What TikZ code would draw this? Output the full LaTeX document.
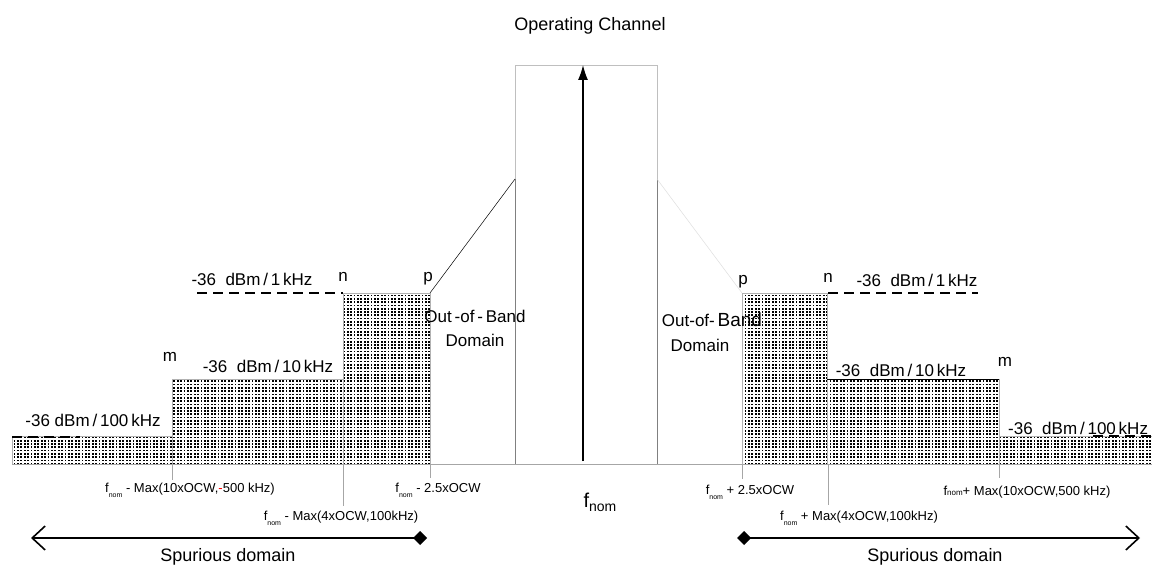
\documentclass[tikz,border=0pt]{standalone}
\usepackage{fontspec}
\setmainfont{Liberation Sans}
\usetikzlibrary{patterns,arrows.meta}
\pgfdeclarepatternformonly{mydots}{\pgfqpoint{-1pt}{-1pt}}{\pgfqpoint{4.5pt}{4.5pt}}{\pgfqpoint{3.4pt}{3.3pt}}{\pgfpathrectangle{\pgfqpoint{0pt}{0pt}}{\pgfqpoint{1.8pt}{1.7pt}}\pgfusepath{fill}}
\newcommand\fnm{f\raisebox{-5pt}{\fontsize{7}{7}\selectfont nom}}
\begin{document}
\begin{tikzpicture}[x=1pt,y=-1pt,
  lbl/.style={font=\fontsize{17}{19}\selectfont, inner sep=0pt},
  big/.style={font=\fontsize{18}{20}\selectfont, inner sep=0pt},
  tlabel/.style={font=\fontsize{13}{15}\selectfont, inner sep=0pt},
  tickline/.style={draw=gray!70, line width=0.5pt},
  block/.style={pattern=mydots, draw=gray!60, line width=0.4pt},
  lvl/.style={dash pattern=on 10pt off 6pt, line width=1.5pt},
  spur/.style={line width=2pt}]
\useasboundingbox (0,0) rectangle (1152,567);
% blocks
\fill[white] (0,0) rectangle (1152,567);
\path[block] (12,436) rectangle (172,464);
\path[block] (172,379) rectangle (343,464);
\path[block] (343,293) rectangle (430,464);
\path[block] (742,293) rectangle (827,464);
\path[block] (827,379) rectangle (999,464);
\path[block] (999,436) rectangle (1152,464);
\draw[black, line width=0.5pt] (827,379) -- (999,379);
% axis
\draw[gray!70, line width=0.6pt] (12,464) -- (1152,464);
% channel
\draw[gray!50, line width=0.6pt] (515,179) -- (515,65) -- (657,65) -- (657,179);
\draw[gray, line width=0.8pt] (515,179) -- (515,464);
\draw[gray, line width=0.8pt] (657,179) -- (657,464);
\coordinate (pl) at (430,293);
\coordinate (cl) at (515,179);
\coordinate (cr) at (657,179);
\coordinate (pr) at (742,293);
\draw[black, line width=0.5pt] (pl) -- (cl);
\draw[gray!25, line width=0.5pt] (cr) -- (pr);
\coordinate (abot) at (583,461);
\coordinate (atop) at (583,65);
\draw[line width=1.3pt, -{Latex[length=15pt,width=10pt]}] (abot) -- (atop);
% level dashes
\draw[lvl] (197,293) -- (343,293);
\draw[lvl] (828,293) -- (978,293);
\draw[lvl] (12,437) -- (80,437);
\draw[lvl] (1093,436) -- (1152,436);
% ticks
\draw[tickline] (172,464) -- (172,480);
\draw[tickline] (343,464) -- (343,506);
\draw[tickline] (430,464) -- (430,478);
\draw[tickline] (742,464) -- (742,479);
\draw[tickline] (828,464) -- (828,505);
\draw[tickline] (999,464) -- (999,478);
% labels
\node[big] (oc) at (590,26) {Operating Channel};
\node[lbl] (l1) at (252,279) {-36\ \ dBm\,/\,1\,kHz};
\node[lbl] (nl) at (343,277) {n};
\node[lbl] (pl2) at (428,279) {p};
\node[lbl] (oobl) at (475,316) {Out\,-of\,-\,Band};
\node[lbl] (doml) at (475,340) {Domain};
\node[lbl] (ml) at (170,357) {m};
\node[lbl] (l10) at (268,366) {-36\ \ dBm\,/\,10\,kHz};
\node[lbl] (l100) at (93,420) {-36\ dBm\,/\,100\,kHz};
\node[lbl] (pr2) at (743,282) {p};
\node[lbl] (nr) at (828,278) {n};
\node[lbl] (r1) at (917,280) {-36\ \ dBm\,/\,1\,kHz};
\node[lbl] (oobr) at (712,320) {Out-of-\,{\fontsize{19}{20}\selectfont Band}};
\node[lbl] (domr) at (700,345) {Domain};
\node[lbl] (r10) at (901,370) {-36\ \ dBm\,/\,10\,kHz};
\node[lbl] (mr) at (1005,362) {m};
\node[lbl, anchor=west] (r100) at (1008,428) {-36\ \ dBm\,/\,100\,kHz};
% tick labels
\node[tlabel] (t1) at (190,490) {\fnm\ - Max(10xOCW,{\color{red}-}500 kHz)};
\node[tlabel] (t2) at (438,490) {\fnm\ - 2.5xOCW};
\node[tlabel] (t3) at (341,518) {\fnm\ - Max(4xOCW,100kHz)};
\node[tlabel] (t4) at (750,492) {\fnm\ + 2.5xOCW};
\node[tlabel] (t5) at (859,518) {\fnm\ + Max(4xOCW,100kHz)};
\node[tlabel] (t6) at (1027,492) {f{\fontsize{8}{8}\selectfont nom}+ Max(10xOCW,500 kHz)};
\node[inner sep=0pt, font=\fontsize{20}{22}\selectfont] (fnom) at (600,502) {f\raisebox{-4pt}{\fontsize{14}{14}\selectfont nom}};
% spurious arrows
\coordinate (dl) at (427,538);
\coordinate (el) at (31,538);
\coordinate (dr) at (737,538);
\coordinate (er) at (1140,538);
\draw[spur, {Turned Square[length=14pt,width=14pt]}-{Straight Barb[length=13pt,width=24pt,line width=1.6pt]}] (dl) -- (el);
\draw[spur, {Turned Square[length=14pt,width=14pt]}-{Straight Barb[length=13pt,width=24pt,line width=1.6pt]}] (dr) -- (er);
\node[big] (sl) at (228,557) {Spurious domain};
\node[big] (sr) at (935,557) {Spurious domain};
\end{tikzpicture}
\end{document}
